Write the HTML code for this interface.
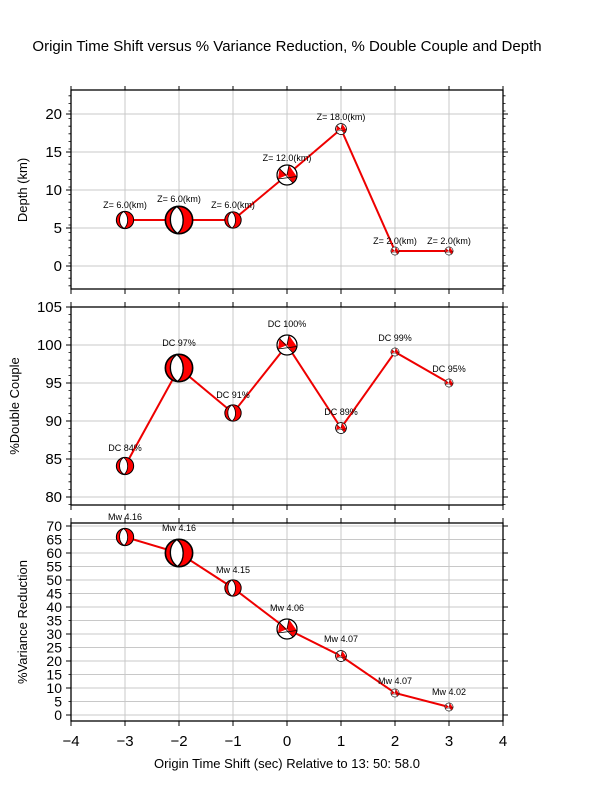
<!DOCTYPE html>
<html><head><meta charset="utf-8"><style>
html,body{margin:0;padding:0;background:#fff}
svg{display:block}
text{font-family:"Liberation Sans",sans-serif;fill:#000}
</style></head><body>
<svg width="612" height="792" viewBox="0 0 612 792" xmlns="http://www.w3.org/2000/svg">
<defs>
<symbol id="bA" viewBox="-1.1 -1.1 2.2 2.2" overflow="visible">
<circle r="1" fill="#f00" stroke="#000" stroke-width="0.12"/>
<path d="M -0.15,-0.99 C -0.85,-0.5 -0.75,0.6 -0.1,0.99 C 0.45,0.5 0.45,-0.5 -0.15,-0.99 Z" fill="#fff" stroke="#000" stroke-width="0.1"/>
</symbol>
<symbol id="bB" viewBox="-1.1 -1.1 2.2 2.2" overflow="visible">
<circle r="1" fill="#fff" stroke="#000" stroke-width="0.1"/>
<path d="M 0,0 L -0.9,0.4 L -0.75,-0.65 Z M 0,0 L 0.2,-0.98 L 0.98,0.15 L 0.6,0.8 Z" fill="#f00"/>
<path d="M -0.9,0.4 L 0.98,0.15 M -0.75,-0.65 L 0.6,0.8 M 0.2,-0.98 L 0,0" stroke="#000" stroke-width="0.08" fill="none"/>
<circle r="1" fill="none" stroke="#000" stroke-width="0.12"/>
</symbol>
</defs>
<text x="287" y="51" font-size="15" text-anchor="middle">Origin Time Shift versus % Variance Reduction, % Double Couple and Depth</text>

<g stroke="#c8c8c8" stroke-width="1">
<!-- vertical grid -->
<path d="M125 90V289M179 90V289M233 90V289M287 90V289M341 90V289M395 90V289M449 90V289"/>
<path d="M125 307V505M179 307V505M233 307V505M287 307V505M341 307V505M395 307V505M449 307V505"/>
<path d="M125 523V721M179 523V721M233 523V721M287 523V721M341 523V721M395 523V721M449 523V721"/>
<!-- panel1 h grid -->
<path d="M71 114H503M71 152H503M71 190H503M71 228H503M71 266H503"/>
<path d="M71 345H503M71 383H503M71 421H503M71 459H503M71 497H503"/>
<path d="M71 526H503M71 539.5H503M71 553H503M71 566.5H503M71 580H503M71 593.5H503M71 607H503M71 620.5H503M71 634H503M71 647.5H503M71 661H503M71 674.5H503M71 688H503M71 701.5H503M71 715H503"/>
</g>

<!-- frames -->
<g fill="none" stroke="#000" stroke-width="1.3">
<rect x="71" y="90" width="432" height="199"/>
<rect x="71" y="307" width="432" height="198"/>
<rect x="71" y="523" width="432" height="198"/>
</g>
<!-- x ticks -->
<g stroke="#000" stroke-width="1">
<path d="M71 289v5M125 289v5M179 289v5M233 289v5M287 289v5M341 289v5M395 289v5M449 289v5M503 289v5"/>
<path d="M71 307v-5M125 307v-5M179 307v-5M233 307v-5M287 307v-5M341 307v-5M395 307v-5M449 307v-5M503 307v-5"/>
<path d="M71 505v5M125 505v5M179 505v5M233 505v5M287 505v5M341 505v5M395 505v5M449 505v5M503 505v5"/>
<path d="M71 523v-5M125 523v-5M179 523v-5M233 523v-5M287 523v-5M341 523v-5M395 523v-5M449 523v-5M503 523v-5"/>
<path d="M71 721v5M125 721v5M179 721v5M233 721v5M287 721v5M341 721v5M395 721v5M449 721v5M503 721v5"/>
<path d="M71 90v-4M125 90v-4M179 90v-4M233 90v-4M287 90v-4M341 90v-4M395 90v-4M449 90v-4M503 90v-4"/>
<!-- y major ticks -->
<path d="M71 114h-5M71 152h-5M71 190h-5M71 228h-5M71 266h-5M503 114h5M503 152h5M503 190h5M503 228h5M503 266h5"/>
<path d="M71 307h-5M71 345h-5M71 383h-5M71 421h-5M71 459h-5M71 497h-5M503 307h5M503 345h5M503 383h5M503 421h5M503 459h5M503 497h5"/>
<path d="M71 526h-5M71 553h-5M71 580h-5M71 607h-5M71 634h-5M71 661h-5M71 688h-5M71 715h-5M503 526h5M503 553h5M503 580h5M503 607h5M503 634h5M503 661h5M503 688h5M503 715h5"/>
</g>
<!-- minor ticks -->
<g stroke="#000" stroke-width="0.8">
<path d="M71 95.8h-2.5M71 103.4h-2.5M71 111h-2.5M71 118.6h-2.5M71 126.2h-2.5M71 133.8h-2.5M71 141.4h-2.5M71 149h-2.5M71 156.6h-2.5M71 164.2h-2.5M71 171.8h-2.5M71 179.4h-2.5M71 187h-2.5M71 194.6h-2.5M71 202.2h-2.5M71 209.8h-2.5M71 217.4h-2.5M71 225h-2.5M71 232.6h-2.5M71 240.2h-2.5M71 247.8h-2.5M71 255.4h-2.5M71 263h-2.5M71 270.6h-2.5M71 278.2h-2.5M71 285.8h-2.5"/>
<path d="M503 95.8h2.5M503 103.4h2.5M503 111h2.5M503 118.6h2.5M503 126.2h2.5M503 133.8h2.5M503 141.4h2.5M503 149h2.5M503 156.6h2.5M503 164.2h2.5M503 171.8h2.5M503 179.4h2.5M503 187h2.5M503 194.6h2.5M503 202.2h2.5M503 209.8h2.5M503 217.4h2.5M503 225h2.5M503 232.6h2.5M503 240.2h2.5M503 247.8h2.5M503 255.4h2.5M503 263h2.5M503 270.6h2.5M503 278.2h2.5M503 285.8h2.5"/>
<path d="M71 314.6h-2.5M71 322.2h-2.5M71 329.8h-2.5M71 337.4h-2.5M71 352.6h-2.5M71 360.2h-2.5M71 367.8h-2.5M71 375.4h-2.5M71 390.6h-2.5M71 398.2h-2.5M71 405.8h-2.5M71 413.4h-2.5M71 428.6h-2.5M71 436.2h-2.5M71 443.8h-2.5M71 451.4h-2.5M71 466.6h-2.5M71 474.2h-2.5M71 481.8h-2.5M71 489.4h-2.5M71 504.6h-2.5"/>
<path d="M503 314.6h2.5M503 322.2h2.5M503 329.8h2.5M503 337.4h2.5M503 352.6h2.5M503 360.2h2.5M503 367.8h2.5M503 375.4h2.5M503 390.6h2.5M503 398.2h2.5M503 405.8h2.5M503 413.4h2.5M503 428.6h2.5M503 436.2h2.5M503 443.8h2.5M503 451.4h2.5M503 466.6h2.5M503 474.2h2.5M503 481.8h2.5M503 489.4h2.5M503 504.6h2.5"/>
<path d="M71 539.5h-2.5M71 566.5h-2.5M71 593.5h-2.5M71 620.5h-2.5M71 647.5h-2.5M71 674.5h-2.5M71 701.5h-2.5M503 539.5h2.5M503 566.5h2.5M503 593.5h2.5M503 620.5h2.5M503 647.5h2.5M503 674.5h2.5M503 701.5h2.5"/>
</g>

<!-- y tick labels -->
<g font-size="15" text-anchor="end">
<text x="62" y="119">20</text><text x="62" y="157">15</text><text x="62" y="195">10</text><text x="62" y="233">5</text><text x="62" y="271">0</text>
<text x="62" y="312">105</text><text x="62" y="350">100</text><text x="62" y="388">95</text><text x="62" y="426">90</text><text x="62" y="464">85</text><text x="62" y="502">80</text>
<text x="62" y="531">70</text><text x="62" y="558">65</text><text x="62" y="585">60</text><text x="62" y="612">55</text><text x="62" y="639">50</text><text x="62" y="666">45</text><text x="62" y="693">40</text><text x="62" y="720">35</text>
</g>
<g font-size="14" text-anchor="end">
<rect x="40" y="520" width="24" height="205" fill="#fff"/>
<text x="62" y="531">70</text><text x="62" y="544.5">65</text><text x="62" y="558">60</text><text x="62" y="571.5">55</text><text x="62" y="585">50</text><text x="62" y="598.5">45</text><text x="62" y="612">40</text><text x="62" y="625.5">35</text><text x="62" y="639">30</text><text x="62" y="652.5">25</text><text x="62" y="666">20</text><text x="62" y="679.5">15</text><text x="62" y="693">10</text><text x="62" y="706.5">5</text><text x="62" y="720">0</text>
</g>
<!-- x tick labels -->
<g font-size="15" text-anchor="middle">
<text x="71" y="746">−4</text><text x="125" y="746">−3</text><text x="179" y="746">−2</text><text x="233" y="746">−1</text><text x="287" y="746">0</text><text x="341" y="746">1</text><text x="395" y="746">2</text><text x="449" y="746">3</text><text x="503" y="746">4</text>
</g>
<text x="287" y="768" font-size="13" text-anchor="middle">Origin Time Shift (sec) Relative to 13: 50: 58.0</text>
<g font-size="13" text-anchor="middle">
<text transform="translate(27,190) rotate(-90)">Depth (km)</text>
<text transform="translate(19,406) rotate(-90)">%Double Couple</text>
<text transform="translate(27,622) rotate(-90)">%Variance Reduction</text>
</g>

<!-- series lines -->
<g fill="none" stroke="#e00" stroke-width="2">
<polyline points="125,220 179,220 233,220 287,175 341,129 395,251 449,251"/>
<polyline points="125,466 179,368 233,413 287,345 341,428 395,352 449,383"/>
<polyline points="125,537 179,553 233,588 287,629 341,656 395,693 449,707"/>
</g>

<!-- balls panel 1 -->
<use href="#bA" x="115.5" y="210.5" width="19" height="19"/>
<use href="#bA" x="164" y="205" width="30" height="30"/>
<use href="#bA" x="224" y="211" width="18" height="18"/>
<use href="#bB" x="276" y="164" width="22" height="22"/>
<use href="#bB" x="335" y="123" width="12" height="12"/>
<use href="#bB" x="390.5" y="246.5" width="9" height="9"/>
<use href="#bB" x="444.5" y="246.5" width="9" height="9"/>
<!-- balls panel 2 -->
<use href="#bA" x="115.5" y="456.5" width="19" height="19"/>
<use href="#bA" x="164" y="353" width="30" height="30"/>
<use href="#bA" x="224" y="404" width="18" height="18"/>
<use href="#bB" x="276" y="334" width="22" height="22"/>
<use href="#bB" x="335" y="422" width="12" height="12"/>
<use href="#bB" x="390.5" y="347.5" width="9" height="9"/>
<use href="#bB" x="444.5" y="378.5" width="9" height="9"/>
<!-- balls panel 3 -->
<use href="#bA" x="115.5" y="527.5" width="19" height="19"/>
<use href="#bA" x="164" y="538" width="30" height="30"/>
<use href="#bA" x="224" y="579" width="18" height="18"/>
<use href="#bB" x="276" y="618" width="22" height="22"/>
<use href="#bB" x="335" y="650" width="12" height="12"/>
<use href="#bB" x="390.5" y="688.5" width="9" height="9"/>
<use href="#bB" x="444.5" y="702.5" width="9" height="9"/>

<!-- labels -->
<g font-size="9" text-anchor="middle">
<text x="125" y="208">Z= 6.0(km)</text>
<text x="179" y="202">Z= 6.0(km)</text>
<text x="233" y="208">Z= 6.0(km)</text>
<text x="287" y="161">Z= 12.0(km)</text>
<text x="341" y="120">Z= 18.0(km)</text>
<text x="395" y="244">Z= 2.0(km)</text>
<text x="449" y="244">Z= 2.0(km)</text>
<text x="125" y="451">DC 84%</text>
<text x="179" y="346">DC 97%</text>
<text x="233" y="398">DC 91%</text>
<text x="287" y="327">DC 100%</text>
<text x="341" y="415">DC 89%</text>
<text x="395" y="341">DC 99%</text>
<text x="449" y="372">DC 95%</text>
<text x="125" y="520">Mw 4.16</text>
<text x="179" y="531">Mw 4.16</text>
<text x="233" y="573">Mw 4.15</text>
<text x="287" y="611">Mw 4.06</text>
<text x="341" y="642">Mw 4.07</text>
<text x="395" y="684">Mw 4.07</text>
<text x="449" y="695">Mw 4.02</text>
</g>
</svg>
</body></html>
